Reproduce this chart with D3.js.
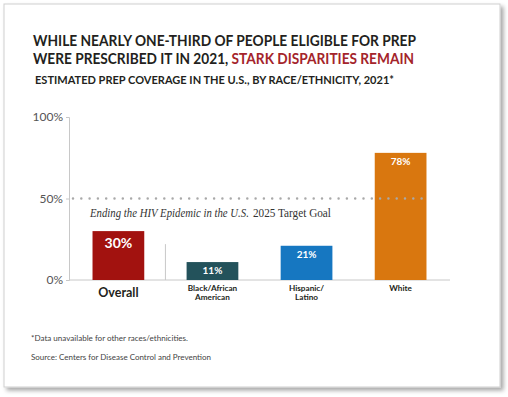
<!DOCTYPE html>
<html>
<head>
<meta charset="utf-8">
<script src="https://cdn.jsdelivr.net/npm/d3@7"></script>
<style>
  body { margin: 0; background: #fff; }
  svg { display: block; }
  text { font-family: Lato, "Open Sans", sans-serif; }
</style>
</head>
<body>
<div id="chart"></div>
<script>
var categories = ['Overall', 'Black/African American', 'Hispanic/ Latino', 'White']
var labels = [['Overall'], ['Black/African', 'American'], ['Hispanic/', 'Latino'], ['White']]
var values = [30, 11, 21, 78]
var colors = ['#a2120f', '#23525b', '#1677c1', '#d9770f']
var yTicks = [0, 50, 100]
var goal = 50

var W = 508, H = 397

var svg = d3.select('#chart').append('svg').attr('width', W).attr('height', H)

// card with shadow
var defs = svg.append('defs')
var f = defs.append('filter').attr('id', 'shadow').attr('x', '-5%').attr('y', '-5%').attr('width', '115%').attr('height', '115%')
f.append('feDropShadow').attr('dx', 3).attr('dy', 3).attr('stdDeviation', 2).attr('flood-color', '#000').attr('flood-opacity', 0.35)

svg.append('rect')
  .attr('x', 4).attr('y', 4).attr('width', 496).attr('height', 383)
  .attr('fill', '#fff').attr('stroke', '#cfcfcf').attr('stroke-width', 1)
  .attr('filter', 'url(#shadow)')

// titles
svg.append('text').attr('x', 33).attr('y', 46)
  .attr('font-size', 14.5).attr('font-weight', 700).attr('fill', '#231f20')
  .attr('textLength', 383).attr('lengthAdjust', 'spacingAndGlyphs')
  .text('WHILE NEARLY ONE-THIRD OF PEOPLE ELIGIBLE FOR PREP')

var t2 = svg.append('text').attr('x', 33).attr('y', 64)
  .attr('font-size', 14.5).attr('font-weight', 700).attr('fill', '#231f20')
  .attr('textLength', 381).attr('lengthAdjust', 'spacingAndGlyphs')
t2.append('tspan').text('WERE PRESCRIBED IT IN 2021, ')
t2.append('tspan').attr('fill', '#a4242b').text('STARK DISPARITIES REMAIN')

svg.append('text').attr('x', 35).attr('y', 84)
  .attr('font-size', 10.5).attr('font-weight', 700).attr('fill', '#231f20')
  .attr('textLength', 359).attr('lengthAdjust', 'spacingAndGlyphs')
  .text('ESTIMATED PREP COVERAGE IN THE U.S., BY RACE/ETHNICITY, 2021*')

// chart area
var x = d3.scaleBand().domain(categories).range([69, 450]).paddingInner(0.45).paddingOuter(0.25)
var y = d3.scaleLinear().domain([0, 100]).range([280, 117])

var g = svg.append('g')

// y axis
var yAxis = d3.axisLeft(y).tickValues(yTicks).tickFormat(d => d + '%').tickSize(3).tickPadding(3)
var ya = g.append('g').attr('transform', 'translate(69,0)').call(yAxis)
ya.select('.domain').attr('stroke', '#c8c8c8')
ya.selectAll('.tick line').attr('stroke', '#c8c8c8')
ya.selectAll('.tick text').attr('fill', '#555').attr('font-size', 12).attr('font-family', 'Lato, sans-serif')

// baseline
g.append('line').attr('x1', 69).attr('x2', 450).attr('y1', y(0)).attr('y2', y(0))
  .attr('stroke', '#c8c8c8').attr('stroke-width', 1)

// separator between overall and groups
var sepX = (x(categories[0]) + x.bandwidth() + x(categories[1])) / 2
g.append('line').attr('x1', sepX).attr('x2', sepX).attr('y1', y(22)).attr('y2', y(0))
  .attr('stroke', '#c8c8c8')

// bars
g.selectAll('rect.bar').data(values).join('rect').attr('class', 'bar')
  .attr('x', (d, i) => x(categories[i]))
  .attr('y', d => y(d))
  .attr('width', x.bandwidth())
  .attr('height', d => y(0) - y(d))
  .attr('fill', (d, i) => colors[i])

// goal dotted line
g.append('line').attr('x1', 73).attr('x2', 423).attr('y1', y(goal)).attr('y2', y(goal))
  .attr('stroke', '#a9a9a9').attr('stroke-width', 2.5)
  .attr('stroke-linecap', 'round').attr('stroke-dasharray', '0 8.3')

// goal label: condensed serif, scaled to fit the reference width
var serif = '"Liberation Serif", "DejaVu Serif", serif'
function squeezed(x0, y0, width, txt, italic){
  var gg = g.append('g')
  var t = gg.append('text').attr('x', 0).attr('y', 0)
    .attr('font-size', 13.5).attr('fill', '#333')
    .attr('font-style', italic ? 'italic' : 'normal')
    .style('font-family', serif)
    .text(txt)
  var k = width / t.node().getComputedTextLength()
  gg.attr('transform', 'translate(' + x0 + ',' + y0 + ') scale(' + k + ',1)')
}
squeezed(90, 217, 159, 'Ending the HIV Epidemic in the U.S.', true)
squeezed(253, 217, 78, '2025 Target Goal', false)

// value labels
g.selectAll('text.val').data(values).join('text').attr('class', 'val')
  .attr('x', (d, i) => x(categories[i]) + x.bandwidth() / 2)
  .attr('y', (d, i) => y(d) + (i == 0 ? 17 : 12))
  .attr('text-anchor', 'middle')
  .attr('fill', '#fff').attr('font-weight', 700)
  .attr('font-size', (d, i) => i == 0 ? 14 : 10)
  .text(d => d + '%')

// category labels
labels.forEach(function(lines, i){
  var cx = x(categories[i]) + x.bandwidth() / 2
  var t = g.append('text').attr('x', cx).attr('text-anchor', 'middle')
    .attr('fill', '#231f20').attr('font-weight', 700)
  if (i == 0) {
    t.attr('y', 297).attr('font-size', 12.5).text(lines[0])
  } else {
    t.attr('y', 291).attr('font-size', 8.2)
    lines.forEach(function(l, j){
      t.append('tspan').attr('x', cx).attr('dy', j == 0 ? 0 : 8.5).text(l)
    })
  }
})

// footnotes
svg.append('text').attr('x', 31).attr('y', 341).attr('font-size', 8.3).attr('fill', '#444')
  .attr('textLength', 157).attr('lengthAdjust', 'spacingAndGlyphs')
  .text('*Data unavailable for other races/ethnicities.')
svg.append('text').attr('x', 31).attr('y', 360).attr('font-size', 8.3).attr('fill', '#444')
  .attr('textLength', 180).attr('lengthAdjust', 'spacingAndGlyphs')
  .text('Source: Centers for Disease Control and Prevention')
</script>
</body>
</html>
